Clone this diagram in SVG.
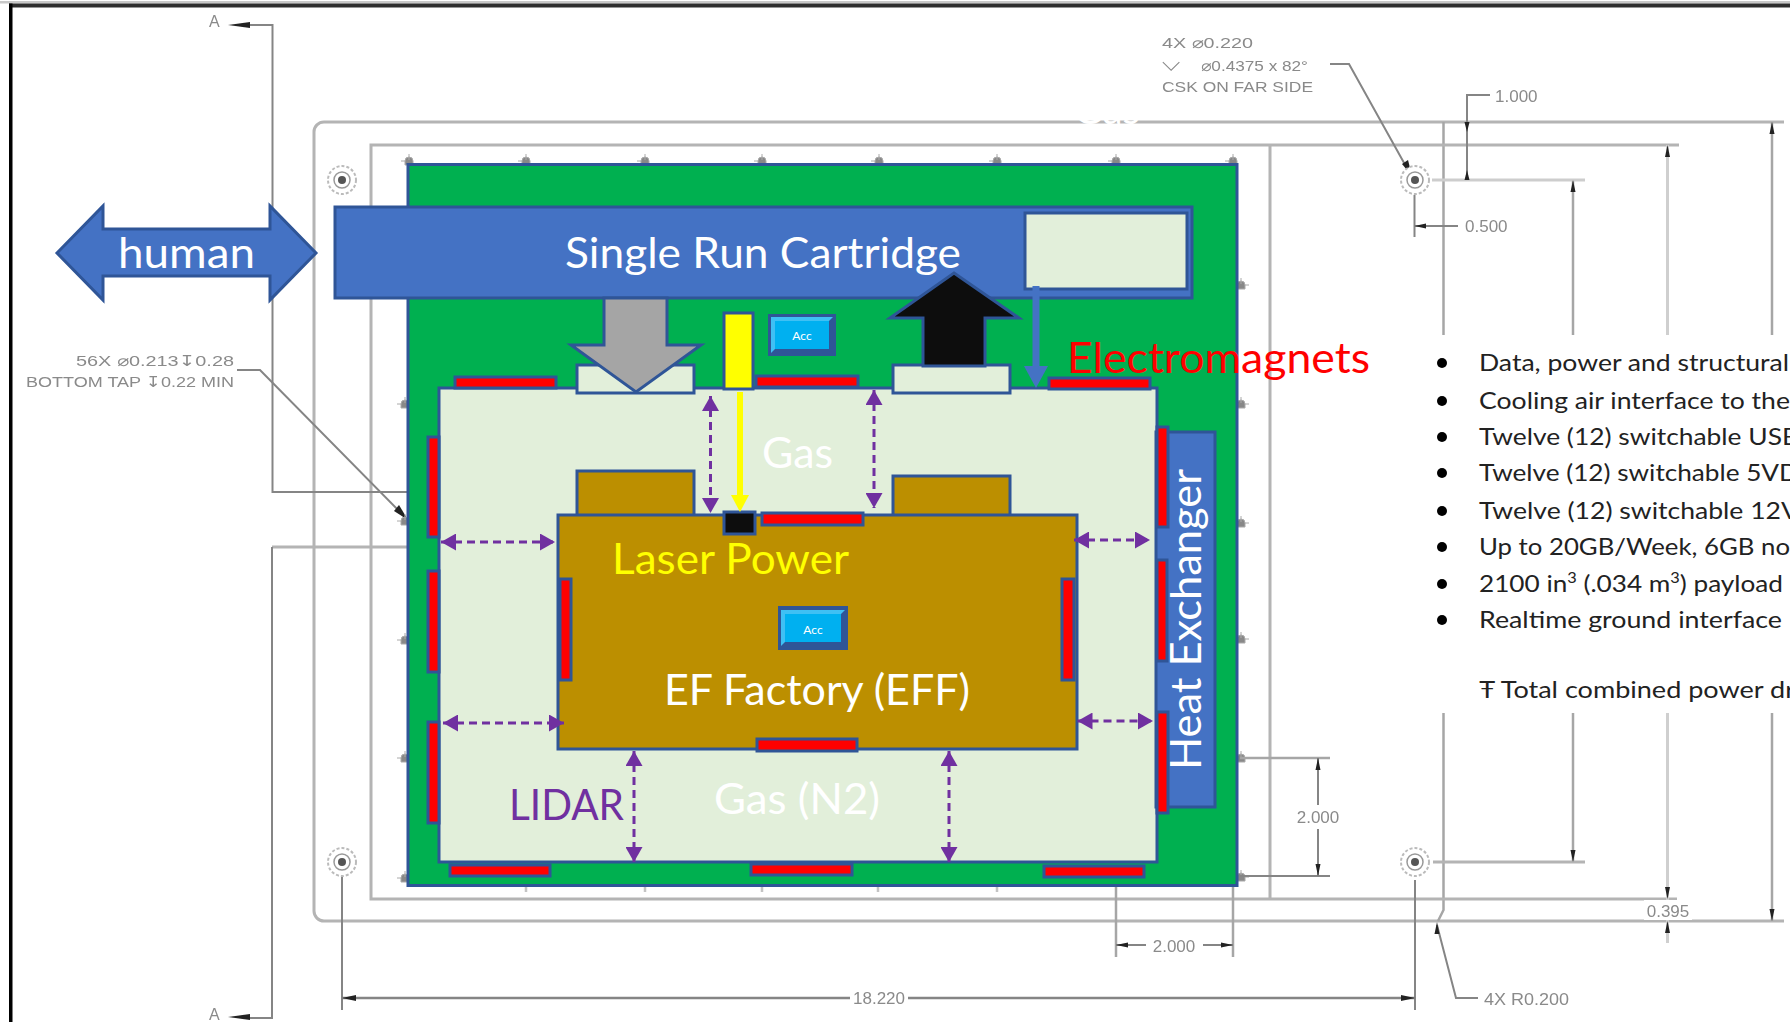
<svg xmlns="http://www.w3.org/2000/svg" width="1790" height="1022" viewBox="0 0 1790 1022">
<style>
.l{fill:none;stroke:#b4b4b4;stroke-width:3}
.m{fill:none;stroke:#a6a6a6;stroke-width:2.5}
.k{fill:none;stroke:#858585;stroke-width:2}
.a{fill:#222;stroke:none}
.t{font-family:"Liberation Sans",Arial,"DejaVu Sans",sans-serif;font-size:15px;fill:#8a8a8a}
.s{stroke:#2F5597;stroke-width:3}
.blue{fill:#4472C4}
.pale{fill:#E2EFDA}
.gold{fill:#BC8F00}
.red{fill:#FF0000;stroke:#2F5597;stroke-width:3}
.big{font-family:Lato,"Liberation Sans",sans-serif;font-size:42px;fill:#fff}
.b{font-family:Lato,"Liberation Sans",sans-serif;font-size:24px;fill:#222}
.p{fill:none;stroke:#7030A0;stroke-width:3;stroke-dasharray:8 5;marker-start:url(#ph);marker-end:url(#ph)}
</style>
<defs>
<marker id="ph" markerUnits="userSpaceOnUse" markerWidth="16" markerHeight="17" refX="15" refY="8.5" orient="auto-start-reverse"><path d="M0 0L15 8.5L0 17Z" fill="#7030A0"/></marker>
<filter id="soft" x="-5%" y="-5%" width="110%" height="110%"><feGaussianBlur stdDeviation="0.6"/></filter>
<g id="hole"><circle r="14" fill="#fff" stroke="#bbb" stroke-width="2" stroke-dasharray="3 2"/><circle r="8" fill="none" stroke="#999" stroke-width="1.500"/><circle r="4" fill="#555"/></g>
<path id="tp" d="M-4 1a4 4 0 0 1 8 0v4h-8zM0 -6v6M-8 1h4" fill="#888" stroke="#aaa"/>
</defs>

<g id="frame">
<rect x="0" y="1" width="1790" height="2.500" fill="#c8c8c8"/>
<rect x="9" y="3.500" width="1781" height="4" fill="#2e2e2e"/>
<rect x="9" y="3.500" width="3.500" height="1018.500" fill="#000"/>
</g>

<g id="drawing" filter="url(#soft)">
<path class="l" d="M1784 122H324a10 10 0 0 0-10 10V911a10 10 0 0 0 10 10H1784"/>
<path class="m" d="M1443.500 122V335M1443.500 713V910L1438 921"/>
<path class="l" d="M1679 145H371V899H1677"/>
<path class="l" d="M1270 145V899"/>
<path class="m" d="M1772 122V335M1772 713V921"/>
<path class="l" style="stroke:#cfcfcf" d="M1667.500 145V335M1667.500 713V943"/>
<path class="m" d="M1573 180V335M1573 713V862"/>
<path class="l" style="stroke:#cdcdcd" d="M1432 180H1585"/>
<path class="l" d="M1433 862H1585"/>

<path class="k" d="M250 25H272.500V492H409"/>
<path class="l" d="M409 547H272"/>
<path class="k" d="M272 547V1018H250"/>
<path class="a" d="M228 25L250 22V28Z"/><path class="a" d="M228 1017L250 1014V1020Z"/>
<text class="t" x="209" y="27" style="font-size:16px">A</text>
<text class="t" x="209" y="1020" style="font-size:16px">A</text>

<path class="k" d="M237 370H260L405 517"/>
<path class="a" d="M408 520L394 511L399 505Z"/>
<text class="t" x="76" y="366" textLength="158" lengthAdjust="spacingAndGlyphs">56X ⌀0.213↧0.28</text>
<text class="t" x="26" y="387" textLength="208" lengthAdjust="spacingAndGlyphs">BOTTOM TAP ↧0.22 MIN</text>

<path class="k" d="M1330 64H1349L1408 170"/>
<path class="a" d="M1412 176L1402 164L1408 160Z"/>
<text class="t" x="1162" y="48" textLength="91" lengthAdjust="spacingAndGlyphs">4X ⌀0.220</text>
<text class="t" x="1162" y="71" style="font-size:24px">⌵</text>
<text class="t" x="1201" y="71" textLength="107" lengthAdjust="spacingAndGlyphs">⌀0.4375 x 82°</text>
<text class="t" x="1162" y="92" textLength="151" lengthAdjust="spacingAndGlyphs">CSK ON FAR SIDE</text>

<path class="k" d="M1490 95H1467V180"/>
<path class="a" d="M1467 132L1464.500 122H1469.500ZM1467 170L1464.500 180H1469.500Z"/>
<text class="t" x="1495" y="102" style="font-size:17px">1.000</text>

<path class="k" d="M1414.500 195V237M1414.500 226H1458"/>
<path class="a" d="M1414.500 226L1426 223.500V228.500Z"/>
<text class="t" x="1465" y="232" style="font-size:17px">0.500</text>

<use href="#hole" x="342" y="180"/><use href="#hole" x="1415" y="180"/>
<use href="#hole" x="342" y="862"/><use href="#hole" x="1415" y="862"/>

<g id="taps">
<use href="#tp" x="409" y="160"/><use href="#tp" x="526" y="160"/><use href="#tp" x="645" y="160"/><use href="#tp" x="762" y="160"/><use href="#tp" x="879" y="160"/><use href="#tp" x="997" y="160"/><use href="#tp" x="1116" y="160"/><use href="#tp" x="1233" y="160"/>
<use href="#tp" x="405" y="403"/><use href="#tp" x="405" y="520"/><use href="#tp" x="405" y="639"/><use href="#tp" x="405" y="757"/><use href="#tp" x="405" y="877"/>
<use href="#tp" transform="translate(1241 284) scale(-1 1)"/><use href="#tp" transform="translate(1241 403) scale(-1 1)"/><use href="#tp" transform="translate(1241 522) scale(-1 1)"/><use href="#tp" transform="translate(1241 638) scale(-1 1)"/><use href="#tp" transform="translate(1241 757) scale(-1 1)"/><use href="#tp" transform="translate(1241 876) scale(-1 1)"/>
</g>
<path class="m" style="stroke:#c4c4c4" d="M526 886V892M645 886V892M762 886V892M878 886V892M997 886V892"/>

<path class="m" d="M1116 886V957M1233 886V957"/>
<path class="k" d="M1116 945H1146M1203 945H1233"/>
<path class="a" d="M1116 945L1128 942.500V947.500ZM1233 945L1221 942.500V947.500Z"/>
<text class="t" x="1174" y="952" text-anchor="middle" style="font-size:17px">2.000</text>

<path class="m" d="M1240 758H1330"/><path class="k" d="M1240 876H1330"/>
<path class="k" d="M1318 758V805M1318 829V876"/>
<path class="a" d="M1318 758L1315.500 770H1320.500ZM1318 876L1315.500 864H1320.500Z"/>
<text class="t" x="1318" y="823" text-anchor="middle" style="font-size:17px">2.000</text>

<path class="k" d="M342 877V1010M1415 880V1010"/>
<path class="k" style="stroke-width:2.500" d="M342 998H850M908 998H1415"/>
<path class="a" d="M342 998L356 995V1001ZM1415 998L1401 995V1001Z"/>
<text class="t" x="879" y="1004" text-anchor="middle" style="font-size:17px">18.220</text>

<path class="a" d="M1667.500 899L1665 887H1670ZM1667.500 921L1665 933H1670Z"/>
<rect x="1644" y="900" width="48" height="20" fill="#fff"/>
<text class="t" x="1668" y="917" text-anchor="middle" style="font-size:17px">0.395</text>
<path class="a" d="M1772 921L1769.500 909H1774.500Z"/><path class="a" d="M1772 122L1769.500 134H1774.500Z"/>
<path class="a" d="M1667.500 145L1665 157H1670Z"/><path class="a" d="M1573 180L1570.500 192H1575.500Z"/><path class="a" d="M1573 862L1570.500 850H1575.500Z"/>

<path class="k" d="M1478 998H1456L1437 925"/>
<path class="a" d="M1437 922L1434.500 934H1439.500Z"/>
<text class="t" x="1484" y="1005" style="font-size:16px" textLength="85" lengthAdjust="spacingAndGlyphs">4X R0.200</text>
</g>

<text id="hidden-gas" x="1073" y="124" font-family="Lato,sans-serif" font-size="42" fill="#fff" textLength="67" lengthAdjust="spacingAndGlyphs">Gas</text>

<g id="bullets">
<g fill="#000"><circle cx="1442" cy="363" r="5"/><circle cx="1442" cy="401" r="5"/><circle cx="1442" cy="437" r="5"/><circle cx="1442" cy="473" r="5"/><circle cx="1442" cy="511" r="5"/><circle cx="1442" cy="547" r="5"/><circle cx="1442" cy="584" r="5"/><circle cx="1442" cy="620" r="5"/></g>
<text class="b" x="1479" y="371" textLength="310" lengthAdjust="spacingAndGlyphs">Data, power and structural</text>
<text class="b" x="1479" y="409" textLength="311" lengthAdjust="spacingAndGlyphs">Cooling air interface to the</text>
<text class="b" x="1479" y="445" textLength="320" lengthAdjust="spacingAndGlyphs">Twelve (12) switchable USB</text>
<text class="b" x="1479" y="481" textLength="320" lengthAdjust="spacingAndGlyphs">Twelve (12) switchable 5VD</text>
<text class="b" x="1479" y="519" textLength="320" lengthAdjust="spacingAndGlyphs">Twelve (12) switchable 12V</text>
<text class="b" x="1479" y="555" textLength="311" lengthAdjust="spacingAndGlyphs">Up to 20GB/Week, 6GB no</text>
<text class="b" x="1479" y="592" textLength="304" lengthAdjust="spacingAndGlyphs">2100 in<tspan dy="-9" font-size="15">3</tspan><tspan dy="9"> (.034 m</tspan><tspan dy="-9" font-size="15">3</tspan><tspan dy="9">) payload</tspan></text>
<text class="b" x="1479" y="628" textLength="303" lengthAdjust="spacingAndGlyphs">Realtime ground interface</text>
<text class="b" x="1479" y="698" textLength="316" lengthAdjust="spacingAndGlyphs">Ŧ Total combined power dr</text>
</g>

<g id="plate"><rect x="408" y="164.500" width="829" height="721" fill="#00B050" class="s"/></g>
<g id="chamber"><rect x="439" y="388" width="718" height="474" class="pale s"/></g>

<g id="magnets">
<rect class="red" x="455" y="377" width="101" height="11"/>
<rect class="red" x="428" y="437" width="11" height="100"/>
<rect class="red" x="428" y="571" width="11" height="101"/>
<rect class="red" x="428" y="722" width="11" height="101"/>
<rect class="red" x="450" y="865" width="100" height="11"/>
<rect class="red" x="751" y="864" width="101" height="11"/>
<rect class="red" x="1044" y="866" width="100" height="11"/>
<rect class="red" x="756" y="376" width="102" height="11"/>
<rect class="red" x="1049" y="378" width="101" height="11"/>
</g>

<g id="heat-exchanger">
<rect x="1156" y="432" width="59" height="375" class="blue s"/>
<text class="big" transform="translate(1201 770) rotate(-90)" textLength="301" lengthAdjust="spacingAndGlyphs">Heat Exchanger</text>
</g>
<g id="hx-magnets">
<rect class="red" x="1157" y="427" width="11" height="100"/>
<rect class="red" x="1157" y="560" width="10" height="101"/>
<rect class="red" x="1157" y="712" width="11" height="101"/>
</g>

<g id="tab-in-left"><rect x="577" y="471" width="117" height="46" class="gold s"/></g>
<g id="tab-in-right"><rect x="893" y="476" width="117" height="41" class="gold s"/></g>
<g id="tab-top-left"><rect x="577" y="365" width="117" height="28" class="pale s"/></g>
<g id="tab-top-right"><rect x="893" y="365" width="117" height="28" class="pale s"/></g>

<g id="eff">
<rect x="558" y="515" width="519" height="234" class="gold s"/>
<rect class="red" x="560" y="579" width="11" height="101"/>
<rect class="red" x="1062" y="579" width="12" height="101"/>
<rect class="red" x="762" y="513" width="101" height="12"/>
<rect class="red" x="757" y="739" width="100" height="12"/>
<text class="big" x="612" y="574" style="fill:#FFFF00" textLength="237" lengthAdjust="spacingAndGlyphs">Laser Power</text>
<text class="big" x="664" y="705" textLength="306" lengthAdjust="spacingAndGlyphs">EF Factory (EFF)</text>
</g>

<g id="cartridge">
<rect x="335" y="207" width="857" height="91" class="blue s"/>
<rect x="1025" y="213" width="162" height="76" class="pale s"/>
<text class="big" x="565" y="268" textLength="396" lengthAdjust="spacingAndGlyphs">Single Run Cartridge</text>
</g>

<g id="human">
<path d="M57 253L103 206V229H270V206L316 253L270 300V276H103V300Z" class="blue s"/>
<text class="big" x="118" y="268" textLength="137" lengthAdjust="spacingAndGlyphs">human</text>
</g>

<g id="laser"><rect x="724" y="313" width="29" height="76" fill="#FFFF00" class="s"/></g>
<g id="detector"><rect x="724" y="512" width="31" height="22" fill="#0D0D0D" class="s"/></g>

<g id="acc-top">
<rect x="768" y="314" width="68" height="42" fill="#2F5597"/>
<path d="M771 317H833L829 321H775V349L771 353Z" fill="#3FC0F4"/>
<rect x="775" y="321" width="54" height="28" fill="#00B0F0"/>
<text x="802" y="340" text-anchor="middle" font-family="Lato,sans-serif" font-size="12" fill="#fff">Acc</text>
</g>
<g id="acc-eff">
<rect x="778" y="606" width="70" height="44" fill="#2F5597"/>
<path d="M781 610H845L841 614H785V642L781 646Z" fill="#3FC0F4"/>
<rect x="785" y="614" width="56" height="28" fill="#00B0F0"/>
<text x="813" y="634" text-anchor="middle" font-family="Lato,sans-serif" font-size="12" fill="#fff">Acc</text>
</g>

<g id="labels">
<text class="big" x="762" y="468" textLength="71" lengthAdjust="spacingAndGlyphs">Gas</text>
<text class="big" x="714" y="814" textLength="166" lengthAdjust="spacingAndGlyphs">Gas (N2)</text>
<text class="big" x="509" y="820" style="fill:#7030A0" textLength="115" lengthAdjust="spacingAndGlyphs">LIDAR</text>
<text class="big" x="1067" y="373" style="fill:#FF0000" textLength="303" lengthAdjust="spacingAndGlyphs">Electromagnets</text>
</g>

<g id="connectors">
<path d="M604 298H667V345H701L636 392L571 345H604Z" fill="#A5A5A5" class="s"/>
<path d="M954 273L1019 318H985V366H923V318H890Z" fill="#0D0D0D" class="s"/>
<path d="M740 392V497" fill="none" stroke="#FFFF00" stroke-width="6"/>
<path d="M731 495H749L740 512Z" fill="#FFFF00"/>
<path d="M1036 286V368" fill="none" stroke="#4472C4" stroke-width="7"/>
<path d="M1024 366H1048L1036 388Z" fill="#4472C4"/>
<path class="p" d="M710.500 396V513"/>
<path class="p" d="M874 390V508"/>
<path class="p" d="M441 542H555"/>
<path class="p" d="M443 723H564"/>
<path class="p" d="M1074 540H1150"/>
<path class="p" d="M1077.500 721H1153"/>
<path class="p" d="M634 751V862"/>
<path class="p" d="M949 751V862"/>
</g>
</svg>
